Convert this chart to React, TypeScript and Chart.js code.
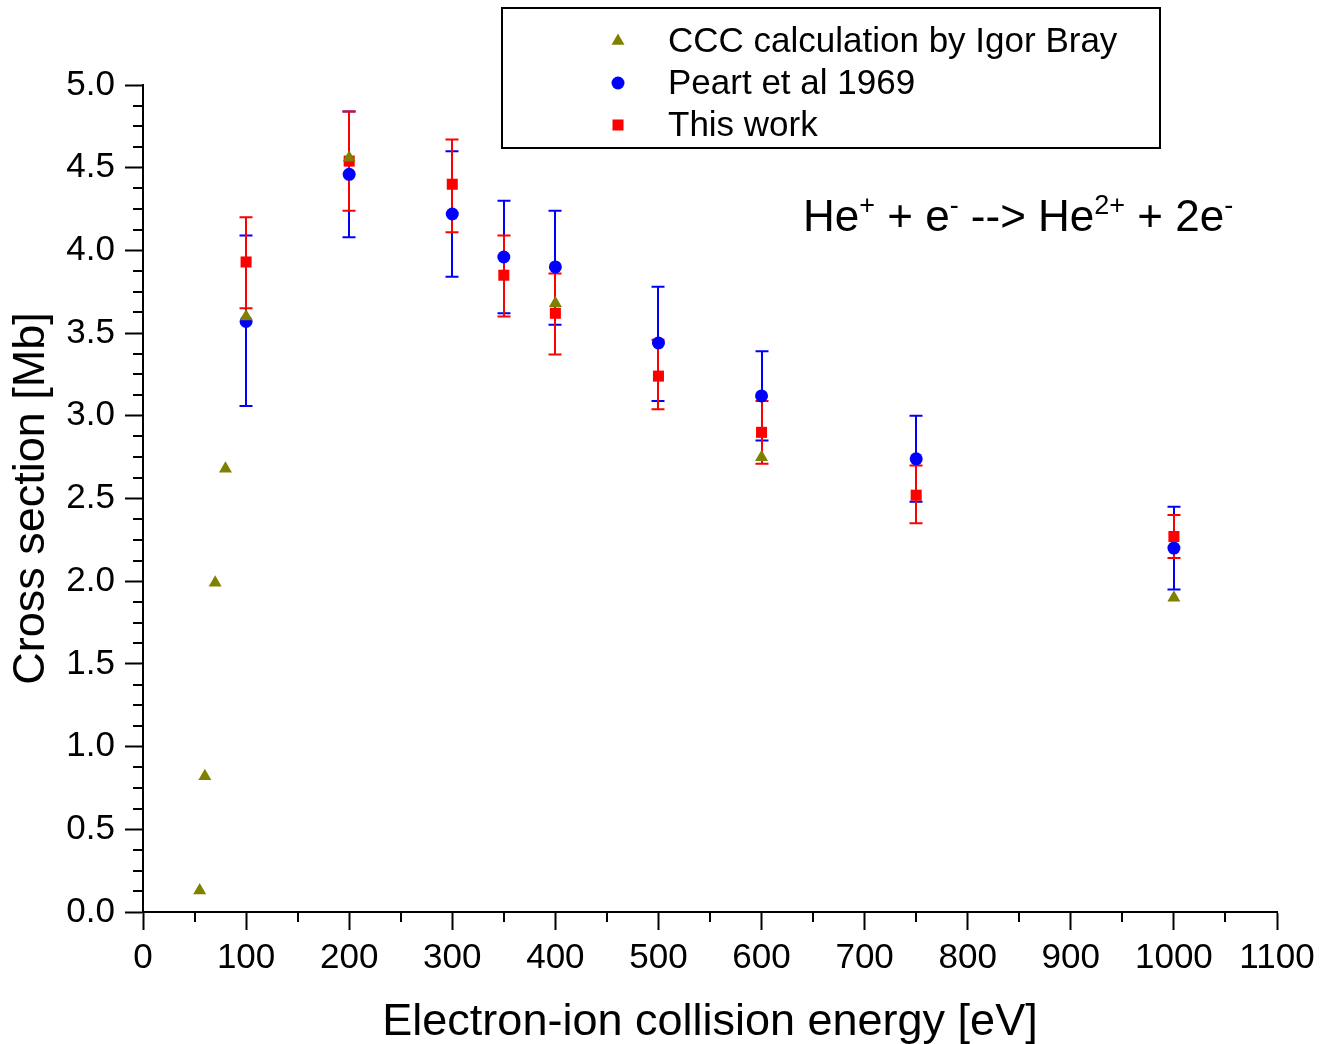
import { useEffect, useRef } from "react";
import { Chart, registerables } from "chart.js";

Chart.register(...registerables);

const FONT = '"Liberation Sans", Arial, Helvetica, sans-serif';

// Series labels
const cccLabel = "CCC calculation by Igor Bray";
const peartLabel = "Peart et al 1969";
const workLabel = "This work";

// CCC calculation (theory)
const cccX = [55, 60, 70, 80, 100, 200, 400, 600, 1000];
const cccY = [0.13, 0.82, 1.99, 2.68, 3.6, 4.56, 3.68, 2.75, 1.9];

// Peart et al 1969
const peartX = [100, 200, 300, 350, 400, 500, 600, 750, 1000];
const peartY = [3.57, 4.46, 4.22, 3.96, 3.9, 3.44, 3.12, 2.74, 2.2];
const peartLo = [3.06, 4.08, 3.84, 3.62, 3.55, 3.09, 2.85, 2.48, 1.95];
const peartHi = [4.09, 4.84, 4.6, 4.3, 4.24, 3.78, 3.39, 3.0, 2.45];

// This work
const workX = [100, 200, 300, 350, 400, 500, 600, 750, 1000];
const workY = [3.93, 4.54, 4.4, 3.85, 3.62, 3.24, 2.9, 2.52, 2.27];
const workLo = [3.65, 4.24, 4.11, 3.6, 3.37, 3.04, 2.71, 2.35, 2.14];
const workHi = [4.2, 4.84, 4.67, 4.09, 3.86, 3.46, 3.09, 2.7, 2.4];

// Axis ranges / ticks
const xMin = 0;
const xMax = 1100;
const xStep = 100;
const xMinorStep = 50;
const yMin = 0;
const yMax = 5;
const yStep = 0.5;
const yMinorStep = 0.125;

const xTitle = "Electron-ion collision energy [eV]";
const yTitle = "Cross section [Mb]";

const OLIVE = "#808000";
const BLUE = "#0000ff";
const RED = "#ff0000";

function drawMarker(ctx: CanvasRenderingContext2D, style: string, x: number, y: number, r: number, color: string) {
  ctx.save();
  ctx.fillStyle = color;
  ctx.beginPath();
  if (style === "triangle") {
    let rad = 0;
    ctx.moveTo(x + Math.sin(rad) * r, y - Math.cos(rad) * r);
    rad += (2 * Math.PI) / 3;
    ctx.lineTo(x + Math.sin(rad) * r, y - Math.cos(rad) * r);
    rad += (2 * Math.PI) / 3;
    ctx.lineTo(x + Math.sin(rad) * r, y - Math.cos(rad) * r);
    ctx.closePath();
  } else if (style === "rect") {
    const s = Math.SQRT1_2 * r;
    ctx.rect(x - s, y - s, 2 * s, 2 * s);
  } else {
    ctx.arc(x, y, r, 0, Math.PI * 2);
  }
  ctx.fill();
  ctx.restore();
}

const errorBarPlugin = {
  id: "errorBars",
  beforeDatasetsDraw(chart: any) {
    const { ctx, scales } = chart;
    const xs = scales.x;
    const ys = scales.y;
    const sets = [
      { x: peartX, lo: peartLo, hi: peartHi, color: BLUE },
      { x: workX, lo: workLo, hi: workHi, color: RED },
    ];
    ctx.save();
    ctx.lineWidth = 2;
    for (const s of sets) {
      ctx.strokeStyle = s.color;
      for (let i = 0; i < s.x.length; i++) {
        const px = Math.round(xs.getPixelForValue(s.x[i]));
        const pl = ys.getPixelForValue(s.lo[i]);
        const ph = ys.getPixelForValue(s.hi[i]);
        ctx.beginPath();
        ctx.moveTo(px, pl);
        ctx.lineTo(px, ph);
        ctx.moveTo(px - 6.5, pl);
        ctx.lineTo(px + 6.5, pl);
        ctx.moveTo(px - 6.5, ph);
        ctx.lineTo(px + 6.5, ph);
        ctx.stroke();
      }
    }
    ctx.restore();
  },
};

const minorTickPlugin = {
  id: "minorTicks",
  afterDraw(chart: any) {
    const { ctx, scales, chartArea } = chart;
    const xs = scales.x;
    const ys = scales.y;
    ctx.save();
    ctx.strokeStyle = "#000";
    ctx.lineWidth = 2;
    ctx.beginPath();
    for (let v = xMin + xMinorStep; v < xMax; v += xMinorStep) {
      if (Math.abs(v / xStep - Math.round(v / xStep)) < 1e-6) continue;
      const px = Math.round(xs.getPixelForValue(v));
      ctx.moveTo(px, chartArea.bottom);
      ctx.lineTo(px, chartArea.bottom + 10);
    }
    for (let v = yMin + yMinorStep; v < yMax; v += yMinorStep) {
      if (Math.abs(v / yStep - Math.round(v / yStep)) < 1e-6) continue;
      const py = Math.round(ys.getPixelForValue(v));
      ctx.moveTo(chartArea.left, py);
      ctx.lineTo(chartArea.left - 10, py);
    }
    ctx.stroke();
    ctx.restore();
  },
};

const legendPlugin = {
  id: "boxLegend",
  afterDraw(chart: any) {
    const { ctx } = chart;
    ctx.save();
    ctx.fillStyle = "#fff";
    ctx.fillRect(502, 8, 658, 140);
    ctx.strokeStyle = "#000";
    ctx.lineWidth = 2;
    ctx.strokeRect(502, 8, 658, 140);
    const items = chart.data.datasets.map((d: any) => ({
      label: d.label,
      style: d.pointStyle,
      color: d.backgroundColor,
      r: d.pointRadius,
    }));
    const order = [cccLabel, peartLabel, workLabel];
    const ys = [41, 83, 125];
    ctx.font = `35px ${FONT}`;
    ctx.textBaseline = "middle";
    ctx.textAlign = "left";
    order.forEach((lab, i) => {
      const it = items.find((t: any) => t.label === lab);
      if (!it) return;
      drawMarker(ctx, it.style, 618, ys[i], it.r, it.color);
      ctx.fillStyle = "#000";
      ctx.fillText(it.label, 668, ys[i] + 1);
    });

    // Reaction annotation
    const parts: [string, boolean][] = [
      ["He", false],
      ["+", true],
      [" + e", false],
      ["-", true],
      [" --> He", false],
      ["2+", true],
      [" + 2e", false],
      ["-", true],
    ];
    let x = 803;
    const base = 231;
    ctx.textBaseline = "alphabetic";
    ctx.fillStyle = "#000";
    for (const [t, sup] of parts) {
      ctx.font = sup ? `27px ${FONT}` : `44px ${FONT}`;
      ctx.fillText(t, x, sup ? base - 17 : base);
      x += ctx.measureText(t).width;
    }
    ctx.restore();
  },
};

export default function App() {
  const ref = useRef<HTMLCanvasElement>(null);
  useEffect(() => {
    if (!ref.current) return;
    const mk = (xs: number[], ys: number[]) => xs.map((x, i) => ({ x, y: ys[i] }));
    const chart = new Chart(ref.current, {
      type: "scatter",
      data: {
        datasets: [
          {
            label: cccLabel,
            data: mk(cccX, cccY),
            pointStyle: "triangle",
            pointRadius: 7.5,
            backgroundColor: OLIVE,
            borderColor: OLIVE,
            borderWidth: 0,
            order: 0,
          },
          {
            label: peartLabel,
            data: mk(peartX, peartY),
            pointStyle: "circle",
            pointRadius: 6.5,
            backgroundColor: BLUE,
            borderColor: BLUE,
            borderWidth: 0,
            order: 2,
          },
          {
            label: workLabel,
            data: mk(workX, workY),
            pointStyle: "rect",
            pointRadius: 7.8,
            backgroundColor: RED,
            borderColor: RED,
            borderWidth: 0,
            order: 1,
          },
        ] as any,
      },
      options: {
        responsive: false,
        animation: false,
        devicePixelRatio: 1,
        layout: { padding: { left: 0, right: 45, top: 85, bottom: 0 } },
        plugins: {
          legend: { display: false },
          tooltip: { enabled: false },
        },
        scales: {
          x: {
            type: "linear",
            min: xMin,
            max: xMax,
            afterFit: (s: any) => {
              s.height = 132;
            },
            ticks: {
              stepSize: xStep,
              color: "#000",
              padding: 7,
              font: { family: FONT, size: 35 },
              maxRotation: 0,
              callback: (v: any) => String(Math.round(Number(v))),
            },
            grid: {
              drawOnChartArea: false,
              drawTicks: true,
              tickLength: 18,
              tickWidth: 2,
              tickColor: "#000",
            },
            border: { display: true, color: "#000", width: 2 },
            title: {
              display: true,
              text: xTitle,
              color: "#000",
              font: { family: FONT, size: 45, lineHeight: 1.0 },
              padding: { top: 0, bottom: -1 },
            },
          },
          y: {
            type: "linear",
            min: yMin,
            max: yMax,
            afterFit: (s: any) => {
              s.width = 143;
            },
            ticks: {
              stepSize: yStep,
              color: "#000",
              padding: 10,
              font: { family: FONT, size: 35 },
              callback: (v: any) => Number(v).toFixed(1),
            },
            grid: {
              drawOnChartArea: false,
              drawTicks: true,
              tickLength: 18,
              tickWidth: 2,
              tickColor: "#000",
            },
            border: { display: true, color: "#000", width: 2 },
            title: {
              display: true,
              text: yTitle,
              color: "#000",
              font: { family: FONT, size: 45, lineHeight: 1.0 },
              padding: { top: 9, bottom: 0 },
            },
          },
        },
      } as any,
      plugins: [errorBarPlugin, minorTickPlugin, legendPlugin],
    });
    return () => chart.destroy();
  }, []);
  return (
    <div style={{ position: "absolute", left: 0, top: 0, width: 1322, height: 1044, background: "#fff" }}>
      <canvas ref={ref} width={1322} height={1044} style={{ display: "block" }} />
    </div>
  );
}
